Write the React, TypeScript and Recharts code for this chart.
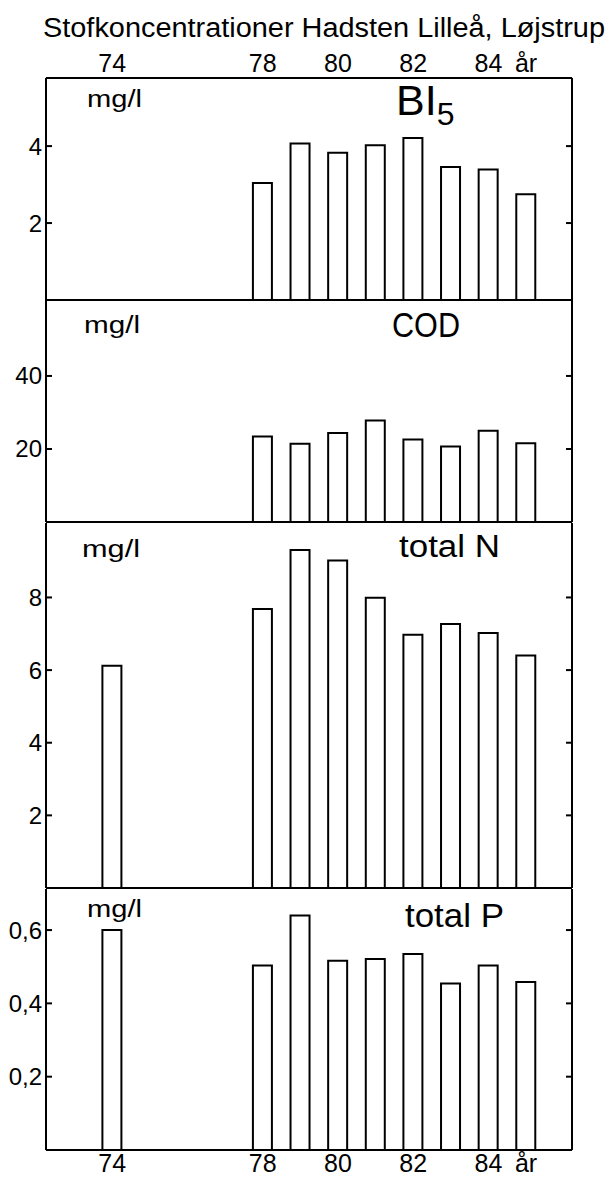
import React from 'react';
import { BarChart, Bar, XAxis, YAxis } from 'recharts';

const FONT = "'Liberation Sans Narrow', 'Liberation Sans', Arial, sans-serif";

// years on the x axis and the measured values per panel (mg/l)
const years = [74, 78, 79, 80, 81, 82, 83, 84, 85];
const bi5 = [null, 3.04, 4.07, 3.83, 4.02, 4.21, 3.46, 3.39, 2.75];
const cod = [null, 23.4, 21.4, 24.4, 27.8, 22.6, 20.7, 25.0, 21.6];
const totalN = [6.12, 7.68, 9.31, 9.02, 7.99, 6.97, 7.27, 7.02, 6.4];
const totalP = [0.6, 0.503, 0.64, 0.516, 0.521, 0.535, 0.454, 0.503, 0.458];

const yearTicks = [74, 78, 80, 82, 84, 85];
const yearLabels = ['74', '78', '80', '82', '84', 'år'];

const biTicks = [2, 4];
const codTicks = [20, 40];
const nTicks = [2, 4, 6, 8];
const pTicks = [0.2, 0.4, 0.6];

const xDomain: [number, number] = [72.24, 86.22];
const line = { stroke: '#000', strokeWidth: 2 };

const yearLabel = (v: number) => yearLabels[yearTicks.indexOf(v)] ?? '';
const comma = (v: number) => String(v).replace('.', ',');

interface PanelProps {
  top: number;
  height: number;
  values: (number | null)[];
  ticks: number[];
  max: number;
  fmt?: (v: number) => string;
  first?: boolean;
  last?: boolean;
}

const Panel = ({ top, height, values, ticks, max, fmt, first, last }: PanelProps) => {
  const data = years.map((year, i) => ({ year, v: values[i] }));
  const xTick = { fill: '#000', fontSize: 25, fontFamily: FONT };
  return (
    <div style={{ position: 'absolute', left: 0, top }}>
      <BarChart
        width={608}
        height={height}
        data={data}
        margin={{ top: first ? 0 : 2, right: 0, bottom: last ? 0 : 1, left: 0 }}
      >
        {first && (
          <XAxis
            xAxisId="top"
            orientation="top"
            type="number"
            dataKey="year"
            domain={xDomain}
            allowDataOverflow
            ticks={yearTicks}
            interval={0}
            tickFormatter={yearLabel}
            height={78}
            tickSize={0}
            tickMargin={6}
            tickLine={false}
            axisLine={line}
            tick={xTick}
          />
        )}
        <XAxis
          type="number"
          dataKey="year"
          domain={xDomain}
          allowDataOverflow
          ticks={yearTicks}
          interval={0}
          tickFormatter={yearLabel}
          height={last ? 28 : 1}
          tickSize={0}
          tickMargin={4}
          tickLine={false}
          axisLine={line}
          tick={last ? xTick : false}
        />
        <YAxis
          type="number"
          domain={[0, max]}
          allowDataOverflow
          ticks={ticks}
          interval={0}
          width={46}
          tickSize={-6}
          tickMargin={10}
          tickFormatter={fmt}
          axisLine={line}
          tickLine={line}
          tick={{ fill: '#000', fontSize: 24, fontFamily: FONT }}
        />
        <YAxis
          yAxisId="r"
          orientation="right"
          type="number"
          domain={[0, max]}
          allowDataOverflow
          ticks={ticks}
          interval={0}
          width={36}
          tickSize={-6}
          tickFormatter={() => ''}
          axisLine={line}
          tickLine={line}
        />
        <Bar
          dataKey="v"
          fill="#fff"
          stroke="#000"
          strokeWidth={2}
          barSize={19}
          isAnimationActive={false}
        />
      </BarChart>
    </div>
  );
};

export default function App() {
  const txt = { fontFamily: FONT, fill: '#000' };
  return (
    <div style={{ position: 'absolute', left: 0, top: 0, width: 608, height: 1178, background: '#fff' }}>
      <Panel top={0} height={302} values={bi5} ticks={biTicks} max={5.77} first />
      <Panel top={298} height={226} values={cod} ticks={codTicks} max={60.8} />
      <Panel top={521} height={369} values={totalN} ticks={nTicks} max={10.05} />
      <Panel top={887} height={291} values={totalP} ticks={pTicks} max={0.712} fmt={comma} last />
      <svg
        width={608}
        height={1178}
        style={{ position: 'absolute', left: 0, top: 0, pointerEvents: 'none' }}
      >
        <text x={43} y={37} fontSize={27} textLength={562} lengthAdjust="spacingAndGlyphs" style={txt}>
          Stofkoncentrationer Hadsten Lilleå, Løjstrup
        </text>
        <text x={87} y={107} fontSize={23} textLength={55} lengthAdjust="spacingAndGlyphs" style={txt}>mg/l</text>
        <text x={84} y={333} fontSize={23} textLength={56} lengthAdjust="spacingAndGlyphs" style={txt}>mg/l</text>
        <text x={82} y={557} fontSize={23} textLength={58} lengthAdjust="spacingAndGlyphs" style={txt}>mg/l</text>
        <text x={87} y={917} fontSize={23} textLength={55} lengthAdjust="spacingAndGlyphs" style={txt}>mg/l</text>
        <text x={396} y={115} fontSize={43} style={txt}>
          BI<tspan fontSize={32} dy={10}>5</tspan>
        </text>
        <text x={392} y={337} fontSize={35} textLength={68} lengthAdjust="spacingAndGlyphs" style={txt}>COD</text>
        <text x={399} y={557} fontSize={31} textLength={101} lengthAdjust="spacingAndGlyphs" style={txt}>total N</text>
        <text x={405} y={927} fontSize={33} textLength={99} lengthAdjust="spacingAndGlyphs" style={txt}>total P</text>
      </svg>
    </div>
  );
}
